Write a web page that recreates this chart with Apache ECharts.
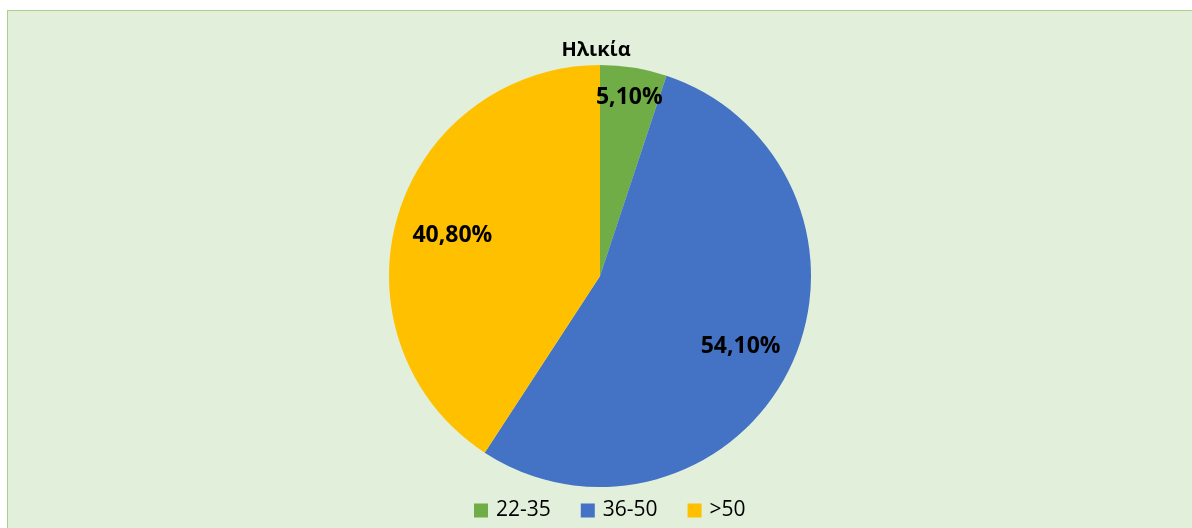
<!DOCTYPE html>
<html>
<head>
<meta charset="utf-8">
<script src="https://cdn.jsdelivr.net/npm/echarts@6/dist/echarts.min.js"></script>
<style>
  html, body { margin: 0; padding: 0; background: #fff; }
  .frame {
    position: absolute;
    left: 7px;
    top: 10px;
    width: 1185px;
    height: 518px;
    border-left: 1px solid #a9d18e;
    border-top: 1px solid #a9d18e;
    background: #e2efda;
    box-sizing: border-box;
  }
  #chart { position: absolute; left: 0; top: 0; width: 1192px; height: 528px; }
</style>
</head>
<body>
<div class="frame"></div>
<div id="chart"></div>
<script>
const categories = ['22-35', '36-50', '>50']
const values = [5.1, 54.1, 40.8]
const colors = ['#70ad47', '#4472c4', '#ffc000']

const chart = echarts.init(document.getElementById('chart'))

const cx = 600, cy = 276, radius = 211
// how far out each label sits (fraction of radius), like Excel's best fit
const labelRatio = [0.87, 0.74, 0.73]
const total = values.reduce((a, b) => a + b, 0)

function labelPos(i) {
  let before = 0
  for (let k = 0; k < i; k++) before += values[k]
  const mid = (before + values[i] / 2) / total * Math.PI * 2
  const r = radius * labelRatio[i]
  // +3: font sits a bit high compared to excel
  return { x: cx + r * Math.sin(mid), y: cy - r * Math.cos(mid) + 3 }
}

chart.setOption({
  animation: false,
  title: {
    text: 'Ηλικία',
    left: 'center',
    top: 35,
    textStyle: { fontFamily: 'Open Sans', fontWeight: 'bold', fontSize: 20, color: '#000' }
  },
  legend: {
    bottom: 2,
    left: 469,
    itemWidth: 14,
    itemHeight: 14,
    itemGap: 30,
    icon: 'rect',
    textStyle: { fontFamily: 'Open Sans', fontSize: 21, color: '#000', padding: [0, 0, 0, 3] },
    data: categories
  },
  series: [
    {
      type: 'pie',
      center: [cx, cy],
      radius: radius,
      startAngle: 90,
      clockwise: true,
      color: colors,
      itemStyle: { borderWidth: 0 },
      label: {
        show: true,
        position: 'inside',
        align: 'center',
        verticalAlign: 'middle',
        fontFamily: 'Open Sans',
        fontWeight: 'bold',
        fontSize: 23,
        color: '#000',
        formatter: p => p.value.toFixed(2).replace('.', ',') + '%'
      },
      labelLayout: p => labelPos(p.dataIndex),
      emphasis: { disabled: true },
      data: categories.map((name, i) => ({ name: name, value: values[i] }))
    }
  ]
})
</script>
</body>
</html>
